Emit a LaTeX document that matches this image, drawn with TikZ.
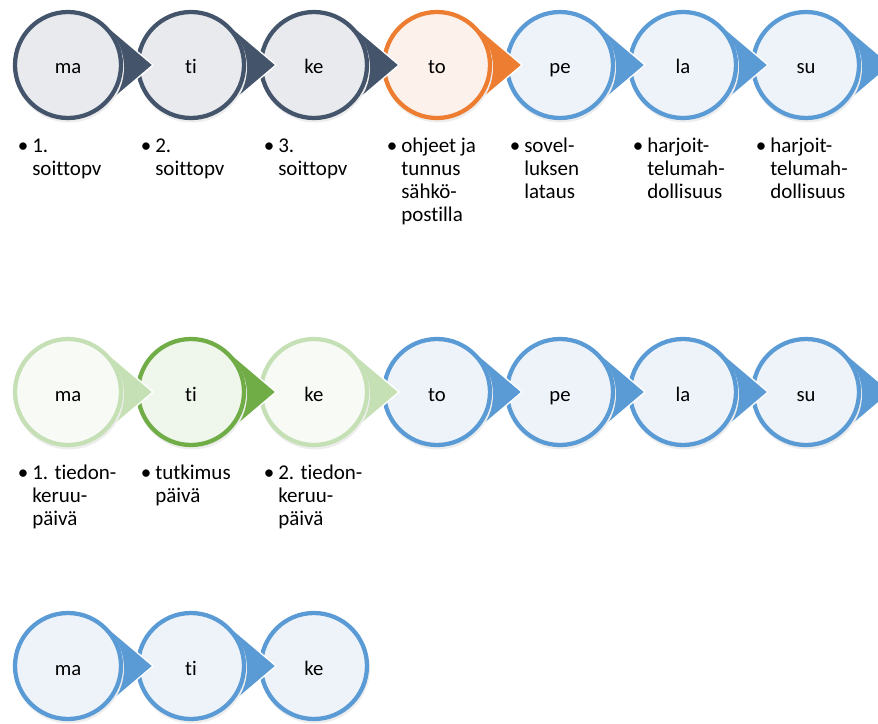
\documentclass[tikz,border=0pt]{standalone}
\usepackage{fontspec}
\setmainfont[Ligatures=CommonOff]{Carlito}
\usetikzlibrary{calc}
\definecolor{navy}{HTML}{44546A}
\definecolor{navyfill}{HTML}{E8EAEE}
\definecolor{orng}{HTML}{ED7D31}
\definecolor{orngfill}{HTML}{FDF1EB}
\definecolor{blu}{HTML}{5B9BD5}
\definecolor{blufill}{HTML}{EEF3FA}
\definecolor{lgreen}{HTML}{C5E0B4}
\definecolor{lgreenfill}{HTML}{F7FAF5}
\definecolor{dgreen}{HTML}{70AD47}
\definecolor{dgreenfill}{HTML}{EFF6EB}
\tikzset{
  daycirc/.style={circle, line width=3.2pt, minimum size=79.5pt, inner sep=0pt,
    text height=13.5pt, text depth=0pt,
    font=\fontsize{15.5}{18}\selectfont},
  daylabel/.style={anchor=north west, inner sep=0pt, align=left,
    font=\fontsize{15.75}{17.25}\selectfont},
  wedgeedge/.style={white, line width=1pt, line join=miter},
  dayshadow/.style={fill=black!7}
}
% #1 name, #2 x, #3 y, #4 colour, #5 fill, #6 text, #7 wedge (1 or 0)
\newcommand{\dayitem}[7]{%
  \coordinate (#1c) at (#2,#3);
  \ifnum#7=1
    \coordinate (#1tip) at ($(#1c)+(85,0)$);
    \fill[#4] ($(#1c)+(50:55)$) -- (#1tip) -- ($(#1c)+(-50:55)$) -- cycle;
    \draw[wedgeedge] ($(#1c)+(50:55)$) -- (#1tip) -- ($(#1c)+(-50:55)$);
  \fi
  \fill[dayshadow] ($(#1c)+(1,2.5)$) circle[radius=55];
  \node[daycirc, draw=#4, fill=#5] (#1) at (#1c) {#6};
}
\newcommand{\bul}{\strut\llap{•\hspace{3pt}}}
\begin{document}
\begin{tikzpicture}[x=0.75pt, y=-0.75pt]
\useasboundingbox (0,0) rectangle (878,724);
% row 1 (drawn right to left so each arrow tip lies over the next circle)
\dayitem{a7}{806}{65}{blu}{blufill}{su}{1}
\dayitem{a6}{683}{65}{blu}{blufill}{la}{1}
\dayitem{a5}{560}{65}{blu}{blufill}{pe}{1}
\dayitem{a4}{437}{65}{orng}{orngfill}{to}{1}
\dayitem{a3}{314}{65}{navy}{navyfill}{ke}{1}
\dayitem{a2}{191}{65}{navy}{navyfill}{ti}{1}
\dayitem{a1}{68}{65}{navy}{navyfill}{ma}{1}
% row 2
\dayitem{b7}{806}{392}{blu}{blufill}{su}{1}
\dayitem{b6}{683}{392}{blu}{blufill}{la}{1}
\dayitem{b5}{560}{392}{blu}{blufill}{pe}{1}
\dayitem{b4}{437}{392}{blu}{blufill}{to}{1}
\dayitem{b3}{314}{392}{lgreen}{lgreenfill}{ke}{1}
\dayitem{b2}{191}{392}{dgreen}{dgreenfill}{ti}{1}
\dayitem{b1}{68}{392}{lgreen}{lgreenfill}{ma}{1}
% row 3
\dayitem{c3}{314}{666}{blu}{blufill}{ke}{0}
\dayitem{c2}{191}{666}{blu}{blufill}{ti}{1}
\dayitem{c1}{68}{666}{blu}{blufill}{ma}{1}
% labels row 1
\node[daylabel] (la1) at (32,136) {\bul 1.\\soittopv};
\node[daylabel] (la2) at (155,136) {\bul 2.\\soittopv};
\node[daylabel] (la3) at (278,136) {\bul 3.\\soittopv};
\node[daylabel] (la4) at (401,136) {\bul ohjeet ja\\tunnus\\sähkö-\\postilla};
\node[daylabel] (la5) at (524,136) {\bul sovel-\\luksen\\lataus};
\node[daylabel] (la6) at (647,136) {\bul harjoit-\\telumah-\\dollisuus};
\node[daylabel] (la7) at (770,136) {\bul harjoit-\\telumah-\\dollisuus};
% labels row 2
\node[daylabel] (lb1) at (32,463) {\bul 1. tiedon-\\keruu-\\päivä};
\node[daylabel] (lb2) at (155,463) {\bul tutkimus\\päivä};
\node[daylabel] (lb3) at (278,463) {\bul 2. tiedon-\\keruu-\\päivä};
\end{tikzpicture}
\end{document}
